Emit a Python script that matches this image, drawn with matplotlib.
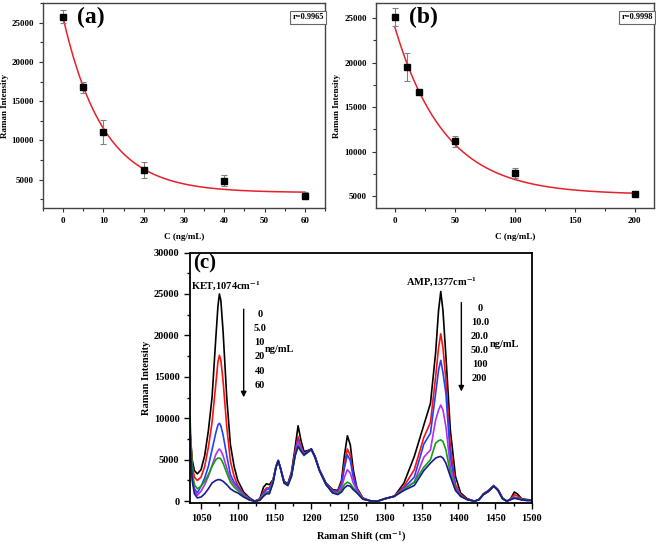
import numpy as np
import matplotlib
matplotlib.use("Agg")
import matplotlib.pyplot as plt
from matplotlib.ticker import MultipleLocator

plt.rcParams['font.family'] = ['Liberation Serif', 'DejaVu Serif']
plt.rcParams['font.weight'] = 'bold'
plt.rcParams['mathtext.fontset'] = 'stix'

# panel (a): KET calibration
conc_a = [0, 5, 10, 20, 40, 60]
int_a = [25750, 16750, 11100, 6250, 4900, 2950]
err_a = [850, 700, 1500, 1000, 650, 450]

# panel (b): AMP calibration
conc_b = [0, 10, 20, 50, 100, 200]
int_b = [25100, 19500, 16700, 11150, 7600, 5250]
err_b = [1000, 1600, 200, 600, 600, 200]

# panel (c): spectra
shift = [1035, 1038, 1041, 1045, 1050, 1055, 1060, 1065, 1070, 1073,
         1075, 1077, 1080, 1085, 1090, 1095, 1100, 1108, 1116, 1123,
         1130, 1135, 1139, 1143, 1148, 1152, 1155, 1158, 1163, 1168,
         1173, 1178, 1182, 1186, 1190, 1195, 1200, 1205, 1211, 1220,
         1229, 1236, 1241, 1245, 1249, 1253, 1257, 1262, 1270, 1280,
         1290, 1300, 1313, 1326, 1340, 1353, 1362, 1369, 1373, 1376,
         1379, 1383, 1389, 1396, 1403, 1412, 1422, 1428, 1434, 1441,
         1448, 1454, 1460, 1466, 1471, 1476, 1480, 1486, 1493, 1500]

spec_0 = [8500, 5000, 3700, 3300, 3800, 5500, 8500, 12500, 19500, 23500,
          25000, 24200, 20500, 12500, 6800, 4200, 2500, 1100, 400, 0,
          300, 1700, 2100, 2000, 2600, 4200, 4900, 4000, 2400, 2100,
          3500, 6500, 9100, 7300, 6000, 6100, 6300, 5400, 3800, 2200,
          1400, 1300, 2500, 5500, 7900, 6800, 3800, 1600, 400, 50,
          0, 300, 600, 2200, 5400, 9200, 11800, 17900, 23000, 25300,
          23000, 17500, 8600, 3000, 1000, 300, 0, 200, 900, 1300,
          1900, 1400, 400, 0, 300, 1100, 900, 300, 200, 150]
spec_1 = [8600, 4500, 2900, 2500, 2900, 4200, 6500, 9500, 14000, 16800,
          17600, 17000, 14500, 9000, 4800, 3000, 1900, 900, 300, 0,
          250, 1200, 1600, 1600, 2500, 4200, 4900, 4000, 2300, 2000,
          3300, 6000, 7800, 6600, 5700, 6000, 6300, 5400, 3800, 2100,
          1300, 1200, 2200, 4500, 6300, 5500, 3200, 1500, 350, 50,
          0, 300, 600, 1800, 3800, 7700, 9500, 15000, 18500, 20200,
          18500, 14600, 6600, 2000, 800, 250, 0, 200, 850, 1250,
          1850, 1350, 350, 0, 250, 800, 650, 250, 150, 100]
spec_2 = [8000, 3500, 1500, 1000, 1800, 2800, 4200, 6200, 8200, 9200,
          9400, 9100, 8000, 5500, 3200, 2300, 1700, 800, 250, 0,
          200, 1000, 1400, 1500, 2500, 4200, 4900, 4000, 2300, 2000,
          3200, 5800, 7400, 6400, 5700, 6000, 6300, 5400, 3800, 2100,
          1200, 1100, 2000, 4000, 5600, 4900, 2900, 1400, 300, 50,
          0, 300, 600, 1600, 2900, 6900, 8200, 13000, 15800, 17000,
          15500, 13000, 5400, 1700, 700, 200, 0, 200, 800, 1200,
          1850, 1300, 300, 0, 200, 500, 400, 200, 100, 100]
spec_3 = [8500, 3000, 1300, 700, 1200, 2000, 3000, 4300, 5600, 6100,
          6300, 6100, 5500, 4000, 2700, 2000, 1500, 700, 200, 0,
          150, 800, 1100, 1200, 2400, 4100, 4900, 4000, 2200, 1900,
          3100, 5700, 7200, 6300, 5600, 5900, 6200, 5300, 3700, 2000,
          1100, 1000, 1600, 2900, 3800, 3400, 2200, 1300, 300, 50,
          0, 300, 600, 1500, 2300, 5300, 6200, 9800, 11000, 11600,
          11000, 9000, 4200, 1600, 650, 200, 0, 200, 800, 1200,
          1850, 1300, 300, 0, 200, 450, 350, 200, 100, 100]
spec_4 = [10200, 3500, 2000, 1500, 1800, 2400, 3200, 4200, 5000, 5200,
          5200, 5100, 4600, 3400, 2300, 1700, 1300, 600, 150, 0,
          150, 700, 1000, 1100, 2300, 4100, 4900, 4000, 2200, 1900,
          3000, 5500, 6700, 6100, 5500, 5900, 6200, 5300, 3700, 2000,
          1000, 900, 1300, 2000, 2300, 2100, 1600, 1100, 250, 50,
          0, 300, 600, 1400, 2300, 4100, 5000, 7000, 7300, 7400,
          7200, 6200, 3400, 1400, 600, 200, 0, 200, 800, 1200,
          1850, 1300, 300, 0, 200, 400, 300, 200, 100, 100]
spec_5 = [7500, 2500, 900, 400, 500, 900, 1500, 2200, 2500, 2600,
          2600, 2550, 2400, 2000, 1500, 1200, 1000, 500, 150, 0,
          100, 600, 900, 900, 2200, 4100, 4900, 4000, 2200, 1900,
          3000, 5500, 6600, 6000, 5600, 5900, 6300, 5300, 3700, 2000,
          1000, 800, 1100, 1600, 1900, 1800, 1400, 1000, 250, 50,
          0, 300, 600, 1300, 1900, 3700, 4600, 5200, 5350, 5400,
          5200, 4600, 3000, 1300, 600, 200, 0, 200, 800, 1200,
          1800, 1300, 300, 0, 200, 350, 300, 150, 100, 100]

spectra = [spec_0, spec_1, spec_2, spec_3, spec_4, spec_5]
spec_colors = ['black', '#ff1010', '#2040ff', '#b030f0', '#10a010', '#1a1a90']
ket_labels = ['0', '5.0', '10', '20', '40', '60']
amp_labels = ['0', '10.0', '20.0', '50.0', '100', '200']


def exp_fit(x, y, err):
    # weighted fit of y = A*exp(-x/t) + y0, scanning t
    x = np.asarray(x, float)
    y = np.asarray(y, float)
    w = 1.0 / np.asarray(err, float)
    best = None
    for t in np.linspace(1, 300, 6000):
        M = np.column_stack([np.exp(-x / t), np.ones_like(x)])
        coef = np.linalg.lstsq(M * w[:, None], y * w, rcond=None)[0]
        r = np.sum(((M @ coef - y) * w) ** 2)
        if best is None or r < best[0]:
            best = (r, t, coef)
    return best[1], best[2]


def calib_panel(ax, x, y, err, xlim, ylim, xmaj, xmin, label, rtext):
    t, (A, y0) = exp_fit(x, y, err)
    xx = np.linspace(min(x), max(x), 300)
    ax.plot(xx, A * np.exp(-xx / t) + y0, color='#e8202a', lw=1.1, zorder=2)
    ax.errorbar(x, y, yerr=err, fmt='none', ecolor='#808080', elinewidth=0.8,
                capsize=2, capthick=0.8, zorder=3)
    ax.plot(x, y, 's', color='black', ms=4.5, zorder=4)
    ax.set_xlim(*xlim)
    ax.set_ylim(*ylim)
    ax.xaxis.set_major_locator(MultipleLocator(xmaj))
    ax.xaxis.set_minor_locator(MultipleLocator(xmin))
    ax.yaxis.set_major_locator(MultipleLocator(5000))
    ax.yaxis.set_minor_locator(MultipleLocator(2500))
    ax.tick_params(which='both', direction='out', top=False, right=False,
                   labelsize=6.5, width=0.8, colors='#333333')
    ax.tick_params(which='major', length=3)
    ax.tick_params(which='minor', length=2)
    for lab in ax.get_xticklabels() + ax.get_yticklabels():
        lab.set_fontweight('bold')
        lab.set_color('black')
    for s in ax.spines.values():
        s.set_linewidth(1.0)
        s.set_color('#444444')
    ax.set_xlabel('C (ng/mL)', fontsize=6.5, fontweight='bold', labelpad=6)
    ax.set_ylabel('Raman Intensity', fontsize=6.5, fontweight='bold', labelpad=2)
    ax.text(0.12, 0.93, label, transform=ax.transAxes, fontsize=17,
            fontweight='bold', va='center', ha='left')
    ax.text(0.94, 0.93, rtext, transform=ax.transAxes, fontsize=6,
            fontweight='bold', va='center', ha='center',
            bbox=dict(boxstyle='square,pad=0.3', fc='white', ec='#666666', lw=0.8))


fig = plt.figure(figsize=(6.56, 5.48), dpi=100)

ax_a = fig.add_axes([0.0655, 0.6204, 0.430, 0.374])
calib_panel(ax_a, conc_a, int_a, err_a, (-5, 65), (1400, 27500), 10, 5, '(a)', 'r=0.9965')

ax_b = fig.add_axes([0.5727, 0.6204, 0.4242, 0.374])
calib_panel(ax_b, conc_b, int_b, err_b, (-16, 216), (3650, 26700), 50, 25, '(b)', 'r=0.9998')

ax_c = fig.add_axes([0.2896, 0.0816, 0.5213, 0.4576])
for sp, c in zip(spectra, spec_colors):
    ax_c.plot(shift, sp, color=c, lw=1.2)
ax_c.set_xlim(1035, 1500)
ax_c.set_ylim(-250, 30000)
ax_c.xaxis.set_major_locator(MultipleLocator(50))
ax_c.xaxis.set_minor_locator(MultipleLocator(25))
ax_c.yaxis.set_major_locator(MultipleLocator(5000))
ax_c.yaxis.set_minor_locator(MultipleLocator(2500))
ax_c.tick_params(which='both', direction='out', top=False, right=False,
                 labelsize=7.5, width=1.0)
ax_c.tick_params(which='major', length=4)
ax_c.tick_params(which='minor', length=2.5)
for lab in ax_c.get_xticklabels() + ax_c.get_yticklabels():
    lab.set_fontweight('bold')
for s in ax_c.spines.values():
    s.set_linewidth(1.3)
ax_c.set_xlabel('Raman Shift (cm$^{\\mathbf{-1}}$)', fontsize=7.5, fontweight='bold', labelpad=5)
ax_c.set_ylabel('Raman Intensity', fontsize=7.5, fontweight='bold', labelpad=2)

ax_c.text(0.01, 0.995, '(c)', transform=ax_c.transAxes, fontsize=15,
          fontweight='bold', va='top', ha='left')
ax_c.text(1037, 25900, 'KET,1074cm$^{\\mathbf{-1}}$', fontsize=7.5, fontweight='bold',
          va='center', ha='left')
ax_c.text(1377, 26400, 'AMP,1377cm$^{\\mathbf{-1}}$', fontsize=7.5, fontweight='bold',
          va='center', ha='center')

ax_c.annotate('', xy=(1108, 12200), xytext=(1108, 23500),
              arrowprops=dict(arrowstyle='-|>', color='black', lw=1.0, mutation_scale=8))
ax_c.annotate('', xy=(1404, 12900), xytext=(1404, 24300),
              arrowprops=dict(arrowstyle='-|>', color='black', lw=1.0, mutation_scale=8))

for i, t in enumerate(ket_labels):
    ax_c.text(1130, 22500 - i * 1700, t, fontsize=7.5, fontweight='bold',
              ha='center', va='center')
ax_c.text(1137, 18300, 'ng/mL', fontsize=7.5, fontweight='bold', ha='left', va='center')
for i, t in enumerate(amp_labels):
    ax_c.text(1429, 23300 - i * 1700, t, fontsize=7.5, fontweight='bold',
              ha='center', va='center')
ax_c.text(1442, 18900, 'ng/mL', fontsize=7.5, fontweight='bold', ha='left', va='center')

fig.savefig('out.png', dpi=100)
